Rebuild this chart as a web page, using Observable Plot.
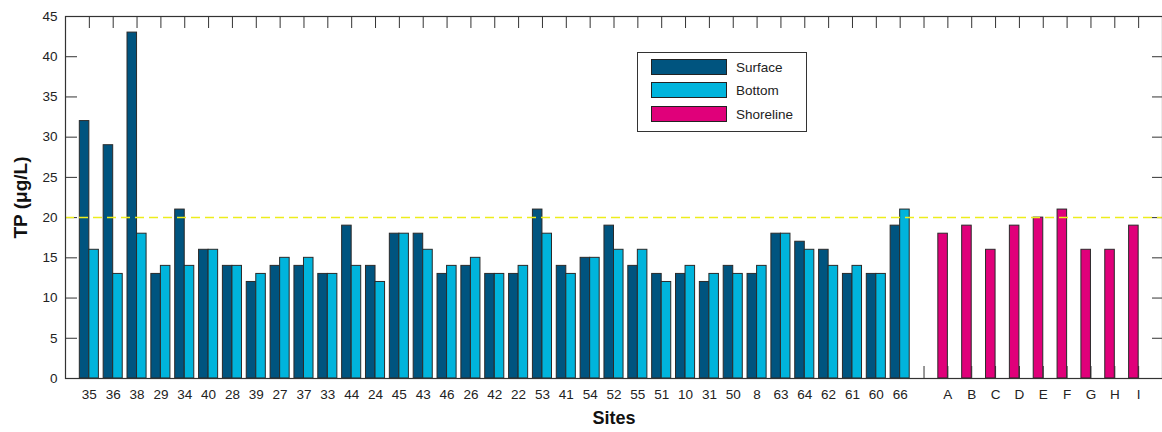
<!DOCTYPE html>
<html><head><meta charset="utf-8">
<script src="https://cdn.jsdelivr.net/npm/d3@7"></script>
<script src="https://cdn.jsdelivr.net/npm/@observablehq/plot@0.6"></script>
<style>
html,body{margin:0;padding:0;background:#fff;}
#wrap{position:relative;width:1162px;height:432px;font-family:"Liberation Sans",Arial,sans-serif;}
#legend{position:absolute;left:637px;top:52px;width:170px;height:80px;border:1px solid #333;background:#fff;box-sizing:border-box;}
.item{position:absolute;left:13px;height:16px;display:flex;align-items:center;}
.sw{width:76px;height:16px;border:1px solid #222;box-sizing:border-box;}
.lab{margin-left:9px;font-size:13.5px;color:#222;}
</style></head>
<body><div id="wrap"></div>
<script>
const sites = ["35","36","38","29","34","40","28","39","27","37","33","44","24","45","43","46","26","42","22","53","41","54","52","55","51","10","31","50","8","63","64","62","61","60","66"];
const surface = [32,29,43,13,21,16,14,12,14,14,13,19,14,18,18,13,14,13,13,21,14,15,19,14,13,13,12,14,13,18,17,16,13,13,19];
const bottom  = [16,13,18,14,14,16,14,13,15,15,13,14,12,18,16,14,15,13,14,18,13,15,16,16,12,14,13,13,14,18,16,14,14,13,21];
const shoreSites = ["A","B","C","D","E","F","G","H","I"];
const shoreline = [18,19,16,19,20,21,16,16,19];
const threshold = 20;
const yTicks = [0,5,10,15,20,25,30,35,40,45];
const seriesNames = ["Surface","Bottom","Shoreline"];
const seriesColors = ["#00547f","#00b4dc","#e0007a"];

const labels = [...sites, "", ...shoreSites];
const xTicks = labels.map((d, i) => i + 1);
const barW = 0.4;

const rows = [];
sites.forEach((s, i) => {
  rows.push({pos: i + 1, off: -barW, value: surface[i], series: "Surface"});
  rows.push({pos: i + 1, off: 0, value: bottom[i], series: "Bottom"});
});
const shoreStart = sites.length + 2;
shoreSites.forEach((s, j) => {
  rows.push({pos: shoreStart + j, off: -barW, value: shoreline[j], series: "Shoreline"});
});

const chart = Plot.plot({
  width: 1162, height: 432,
  marginLeft: 65, marginRight: 0, marginTop: 16, marginBottom: 54,
  style: {fontFamily: "Liberation Sans, Arial, sans-serif", fontSize: "13.5px", color: "#222", background: "#fff"},
  x: {domain: [0, labels.length + 1]},
  y: {domain: [0, 45]},
  color: {domain: seriesNames, range: seriesColors},
  marks: [
    Plot.axisY({ticks: yTicks, anchor: "left", tickSize: -12, tickFormat: () => "", label: null, stroke: "#333"}),
    Plot.axisY({ticks: yTicks, anchor: "right", tickSize: -11, tickFormat: () => "", label: null, stroke: "#333"}),
    Plot.axisY({ticks: yTicks, anchor: "left", tickSize: 0, tickPadding: 8, label: null, fill: "#222"}),
    Plot.axisX({ticks: xTicks, anchor: "top", tickSize: -11, tickFormat: () => "", label: null, stroke: "#333"}),
    Plot.axisX({ticks: xTicks, anchor: "bottom", tickSize: -12, tickFormat: () => "", label: null, stroke: "#333"}),
    Plot.axisX({ticks: xTicks, anchor: "bottom", tickSize: 0, tickPadding: 11, tickFormat: d => labels[d - 1], label: null, fill: "#222"}),
    Plot.rectY(rows, {x1: d => d.pos + d.off, x2: d => d.pos + d.off + barW, y1: 0, y2: "value", fill: "series", stroke: "#2a2a2a", strokeWidth: 1}),
    Plot.ruleY([threshold], {stroke: "#eded1c", strokeWidth: 1.5, strokeDasharray: "9,5"}),
    Plot.frame({stroke: "#333", strokeWidth: 1.2}),
    Plot.text(["Sites"], {frameAnchor: "bottom", dy: 45, fontSize: 18, fontWeight: "bold", fill: "#111"}),
    Plot.text(["TP (μg/L)"], {frameAnchor: "left", textAnchor: "middle", dx: -45, rotate: -90, fontSize: 19, fontWeight: "bold", fill: "#111"})
  ]
});
const wrap = document.getElementById("wrap");
wrap.appendChild(chart);

const legend = document.createElement("div");
legend.id = "legend";
const itemTops = [6, 29, 53];
seriesNames.forEach((name, i) => {
  const item = document.createElement("div");
  item.className = "item";
  item.style.top = itemTops[i] + "px";
  const sw = document.createElement("div");
  sw.className = "sw";
  sw.style.background = seriesColors[i];
  const lab = document.createElement("span");
  lab.className = "lab";
  lab.textContent = name;
  item.appendChild(sw); item.appendChild(lab);
  legend.appendChild(item);
});
wrap.appendChild(legend);
</script>
</body></html>
